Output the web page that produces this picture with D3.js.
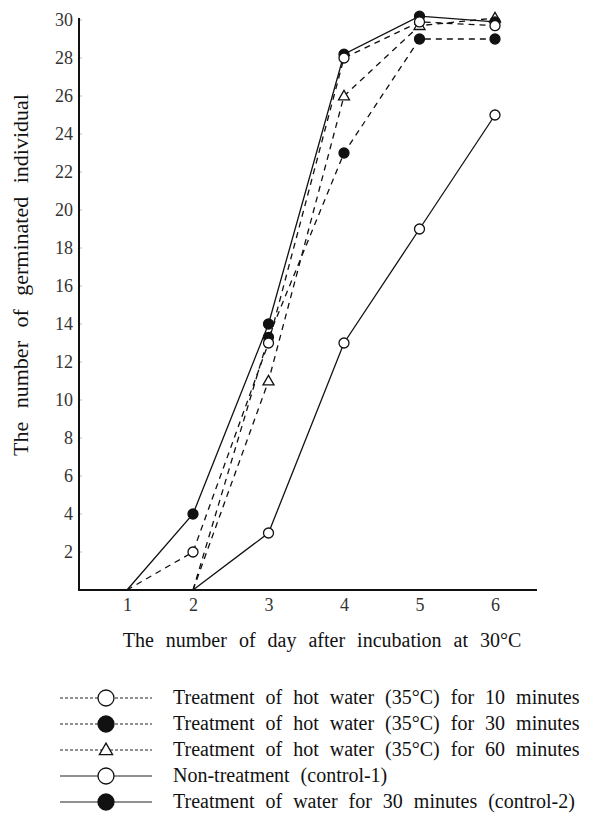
<!DOCTYPE html>
<html><head><meta charset="utf-8">
<script src="https://cdn.jsdelivr.net/npm/d3@7"></script>
<style>
html,body{margin:0;padding:0;background:#fff;}
svg{display:block;}
</style></head>
<body><svg id="c" width="592" height="821"></svg>
<script>
const days = [1, 2, 3, 4, 5, 6];
const yTicks = [2, 4, 6, 8, 10, 12, 14, 16, 18, 20, 22, 24, 26, 28, 30];
const hot10 = [0, 2, 13, 28, 29.9, 29.7];
const hot30 = [null, 0, 13.3, 23, 29, 29];
const hot60 = [null, 0, 11, 26, 29.7, 30.1];
const control1 = [null, 0, 3, 13, 19, 25];
const control2 = [0, 4, 14, 28.2, 30.2, 29.9];
const legendLabels = [
  "Treatment of hot water (35°C) for 10 minutes",
  "Treatment of hot water (35°C) for 30 minutes",
  "Treatment of hot water (35°C) for 60 minutes",
  "Non-treatment (control-1)",
  "Treatment of water for 30 minutes (control-2)"
];
const xTitle = "The number of day after incubation at 30°C";
const yTitle = "The number of germinated individual";

const FONT = "Liberation Serif";

const series = [
  {vals: hot30, dash: "6,5", marker: "filled"},
  {vals: hot60, dash: "6,5", marker: "triangle"},
  {vals: control1, dash: null, marker: "open"},
  {vals: control2, dash: null, marker: "filled"},
  {vals: hot10, dash: "6,5", marker: "open"}
];
const legendOrder = [
  {dash: "3,2", marker: "open"},
  {dash: "3,2", marker: "filled"},
  {dash: "3,2", marker: "triangle"},
  {dash: null, marker: "open"},
  {dash: null, marker: "filled"}
];

const svg = d3.select("#c");
const x = d3.scaleLinear().domain([1, 2, 6]).range([127, 193, 495]);
const y = d3.scaleLinear().domain([0, 30]).range([590, 20]);

// axes
const yAxis = d3.axisLeft(y).tickValues(yTicks).tickSize(0).tickPadding(6);
const gy = svg.append("g").attr("transform", "translate(79,0)").call(yAxis);
gy.attr("font-family", FONT).attr("font-size", 18);
gy.select(".domain").remove();
gy.selectAll("text").attr("fill", "#333").attr("font-family", FONT);
svg.append("g").selectAll("line").data(yTicks).join("line")
  .attr("x1", 80).attr("x2", 82).attr("y1", d => y(d)).attr("y2", d => y(d))
  .attr("stroke", "#bbb").attr("stroke-width", 1);

const xAxis = d3.axisBottom(x).tickValues(days).tickSize(0).tickPadding(8).tickFormat(d3.format("d"));
const gx = svg.append("g").attr("transform", "translate(0,590)").call(xAxis);
gx.attr("font-family", FONT).attr("font-size", 18);
gx.select(".domain").remove();
gx.selectAll("text").attr("fill", "#333").attr("font-family", FONT);

svg.append("line").attr("x1", 79).attr("x2", 79).attr("y1", y(30) - 2).attr("y2", y(0) + 1)
  .attr("stroke", "#111").attr("stroke-width", 2);
svg.append("line").attr("x1", 78).attr("x2", 537).attr("y1", y(0)).attr("y2", y(0))
  .attr("stroke", "#111").attr("stroke-width", 2);

// titles
svg.append("text").attr("x", 322).attr("y", 647).attr("text-anchor", "middle")
  .attr("font-family", FONT).attr("font-size", 20).attr("fill", "#111")
  .attr("word-spacing", 7).text(xTitle);
svg.append("text").attr("transform", "translate(28,275) rotate(-90)").attr("text-anchor", "middle")
  .attr("font-family", FONT).attr("font-size", 22).attr("fill", "#111")
  .attr("word-spacing", 8).text(yTitle);

// lines
const line = d3.line().defined(d => d.v != null).x(d => x(d.day)).y(d => y(d.v));
const plot = svg.append("g");
series.forEach(s => {
  const pts = days.map((d, i) => ({day: d, v: s.vals[i]}));
  plot.append("path").datum(pts).attr("d", line).attr("fill", "none")
    .attr("stroke", "#111").attr("stroke-width", 1.3)
    .attr("stroke-dasharray", s.dash);
});

function drawMarker(g, kind, cx, cy, r) {
  if (kind === "triangle") {
    const h = r * 1.9;
    g.append("path").attr("d", `M${cx},${cy - h * 0.6}L${cx + r * 1.1},${cy + h * 0.4}L${cx - r * 1.1},${cy + h * 0.4}Z`)
      .attr("fill", "#fff").attr("stroke", "#111").attr("stroke-width", 1.3);
  } else {
    g.append("circle").attr("cx", cx).attr("cy", cy).attr("r", r)
      .attr("fill", kind === "filled" ? "#111" : "#fff")
      .attr("stroke", "#111").attr("stroke-width", 1.3);
  }
}
series.forEach(s => {
  days.forEach((d, i) => {
    const v = s.vals[i];
    if (v == null || v === 0) return;
    drawMarker(plot, s.marker, x(d), y(v), 5);
  });
});

// legend
const rowY = d3.scaleLinear().domain([0, 4]).range([698, 802]);
const lg = svg.append("g");
legendOrder.forEach((s, i) => {
  const yy = rowY(i);
  lg.append("line").attr("x1", 60).attr("x2", 152).attr("y1", yy).attr("y2", yy)
    .attr("stroke", "#222").attr("stroke-width", 1).attr("stroke-dasharray", s.dash);
  drawMarker(lg, s.marker, 106, yy, s.marker === "triangle" ? 6 : 8);
  lg.append("text").attr("x", 173).attr("y", yy + 6)
    .attr("font-family", FONT).attr("font-size", 20).attr("fill", "#111")
    .attr("word-spacing", 6).text(legendLabels[i]);
});
</script></body></html>
